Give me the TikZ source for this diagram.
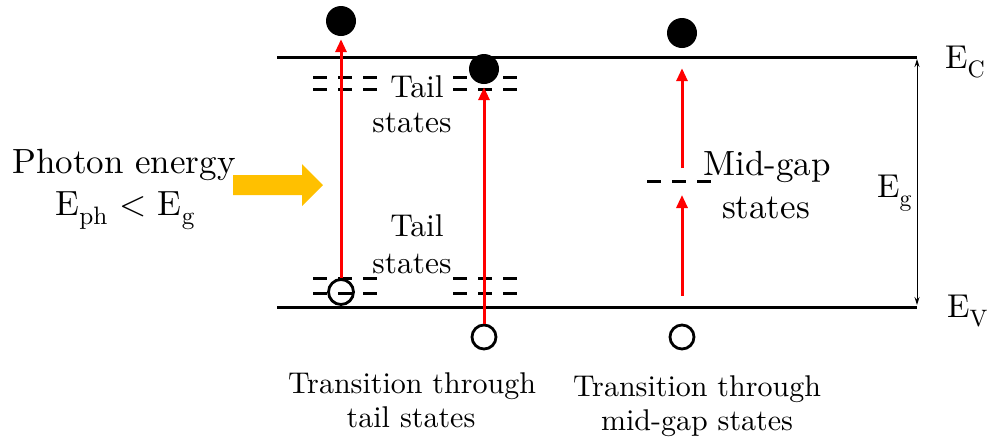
\documentclass[tikz,border=0pt]{standalone}
\usepackage{fontspec}
\setmainfont{lmroman10-regular}[Extension=.otf]
\usetikzlibrary{arrows.meta}
\definecolor{gold}{HTML}{FFC000}
\definecolor{redarr}{HTML}{FF0000}
\newcommand{\lowsub}[1]{\raisebox{-0.28em}{\fontsize{0.72em}{0.8em}\selectfont #1}}
\begin{document}
\begin{tikzpicture}[x=1pt,y=-1pt,
  band/.style={line width=3pt},
  elec/.style={circle,fill=black,inner sep=0pt,minimum size=30pt},
  hole/.style={circle,draw=black,line width=2.8pt,inner sep=0pt,minimum size=25pt},
  trans/.style={draw=redarr,line width=3pt,-{Triangle[width=11pt,length=13pt]}},
  states/.style={line width=3pt,dash pattern=on 14pt off 11pt},
  gaparrow/.style={line width=1pt,{Stealth[length=8pt,width=5pt]}-{Stealth[length=8pt,width=5pt]},shorten <=2pt,shorten >=2pt},
  lbl/.style={inner sep=0pt,anchor=base},
  big/.style={font=\fontsize{35}{40}\selectfont},
  mid/.style={font=\fontsize{30}{36}\selectfont},
  tail/.style={font=\fontsize{31.5}{36}\selectfont},
  elab/.style={inner sep=0pt,anchor=base west,font=\fontsize{33}{38}\selectfont},
]
\useasboundingbox (0,0) rectangle (987,440);

% bands
\coordinate (ECl) at (277,57);
\coordinate (ECr) at (917,57);
\coordinate (EVl) at (277,307);
\coordinate (EVr) at (917,307);
\draw[band] (ECl) -- (ECr);
\draw[band] (EVl) -- (EVr);
\draw[gaparrow] (ECr) -- (EVr);

% tail states near EC
\coordinate (t1a) at (313,77); \coordinate (t1b) at (378,77);
\coordinate (t2a) at (313,89); \coordinate (t2b) at (378,89);
\coordinate (t3a) at (453,77); \coordinate (t3b) at (518,77);
\coordinate (t4a) at (453,89); \coordinate (t4b) at (518,89);
\draw[states] (t1a) -- (t1b);
\draw[states] (t2a) -- (t2b);
\draw[states] (t3a) -- (t3b);
\draw[states] (t4a) -- (t4b);
% tail states near EV
\coordinate (v1a) at (313,278); \coordinate (v1b) at (378,278);
\coordinate (v2a) at (313,293); \coordinate (v2b) at (378,293);
\coordinate (v3a) at (453,278); \coordinate (v3b) at (518,278);
\coordinate (v4a) at (453,293); \coordinate (v4b) at (518,293);
\draw[states] (v1a) -- (v1b);
\draw[states] (v2a) -- (v2b);
\draw[states] (v3a) -- (v3b);
\draw[states] (v4a) -- (v4b);
% mid-gap states
\coordinate (ma) at (647,181); \coordinate (mb) at (712,181);
\draw[states] (ma) -- (mb);
\coordinate (m) at (682,181);

% carriers
\node[elec] (e1) at (341,21) {};
\node[elec] (e2) at (484,69) {};
\node[elec] (e3) at (682,33) {};
\node[hole] (h1) at (341,292) {};
\node[hole,minimum size=24pt] (h2) at (484,337) {};
\node[hole,minimum size=24pt] (h3) at (682,337) {};

% transitions
\draw[trans,shorten >=3pt] (h1) -- (e1);
\draw[trans,shorten >=3pt] (h2) -- (e2);
\draw[trans,shorten <=28pt,shorten >=14pt] (h3) -- (m);
\draw[trans,shorten <=13pt,shorten >=20pt] (m) -- (e3);

% photon arrow
\fill[gold] (233,175) -- (302,175) -- (302,164) -- (323,185) -- (302,206) -- (302,195) -- (233,195) -- cycle;

% labels
\node[elab] (lEC) at (945,68) {E\lowsub{C}};
\node[elab] (lEg) at (877,197) {E\lowsub{g}};
\node[elab] (lEV) at (947,317) {E\lowsub{V}};

\node[lbl,big] (ph1) at (124,173) {Photon energy};
\node[lbl,big] (ph2) at (125,215) {E\lowsub{ph} < E\lowsub{g}};

\node[lbl,tail] (ta1) at (417,97) {Tail};
\node[lbl,tail] (ta2) at (412,132) {states};
\node[lbl,tail] (tb1) at (417,236) {Tail};
\node[lbl,tail] (tb2) at (412,273) {states};

\node[lbl,big] (mg1) at (767,175) {Mid-gap};
\node[lbl,big] (mg2) at (766,218) {states};

\node[lbl,mid] (tr1) at (412,393) {Transition through};
\node[lbl,mid] (tr2) at (411,427) {tail states};
\node[lbl,mid] (tr3) at (697,396) {Transition through};
\node[lbl,mid] (tr4) at (697,430) {mid-gap states};
\end{tikzpicture}
\end{document}
